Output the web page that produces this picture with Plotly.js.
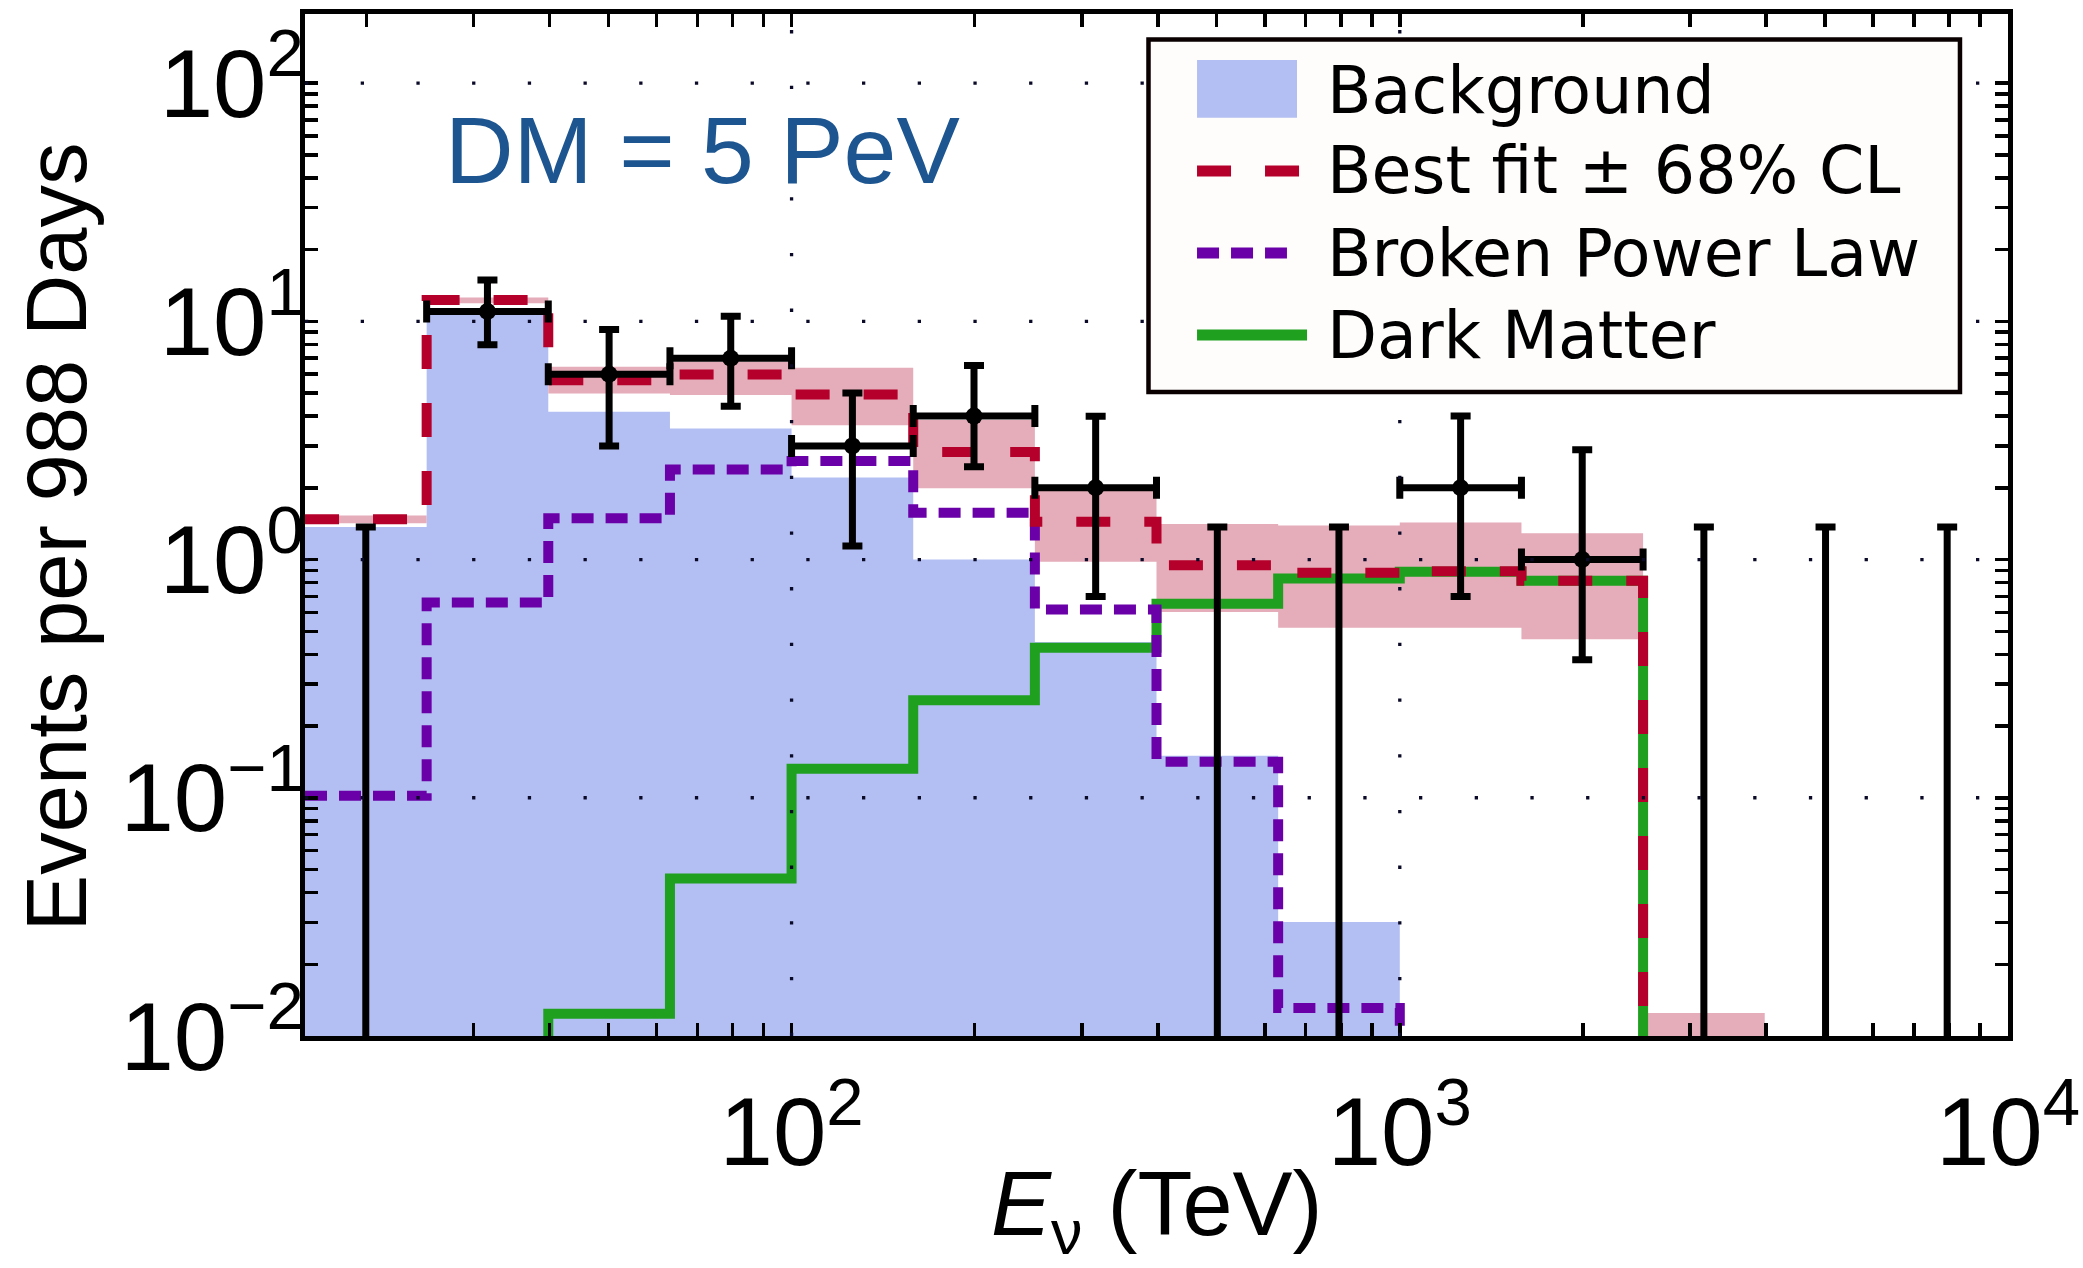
<!DOCTYPE html>
<html>
<head>
<meta charset="utf-8">
<script src="https://cdn.plot.ly/plotly-3.0.1.min.js"></script>
<style>
  html, body { margin: 0; padding: 0; background: #ffffff; }
  #chart { width: 2083px; height: 1268px; }
</style>
</head>
<body>
<div id="chart"></div>
<script>
// ---------------- data ----------------
// energy bin edges in TeV (0.2-decade bins)
const binEdges = [15.85, 25.12, 39.81, 63.10, 100.0, 158.5, 251.2, 398.1, 631.0, 1000, 1585, 2512, 3981, 6310, 10000];
// bin centres in TeV
const binCenters = [19.95, 31.62, 50.12, 79.43, 125.9, 199.5, 316.2, 501.2, 794.3, 1259, 1995, 3162, 5012, 7943];

// expected events per bin (values below 0.01 lie under the axis floor)
const background     = [1.37, 11.3, 4.17, 3.55, 2.21, 1.00, 0.451, 0.150, 0.0301];
const brokenPowerLaw = [0.102, 0.660, 1.49, 2.39, 2.59, 1.57, 0.617, 0.1415, 0.0131, 0.004];
const darkMatter     = [0.002, 0.006, 0.0124, 0.0458, 0.1325, 0.2566, 0.426, 0.653, 0.832, 0.888, 0.814, 0.0005];
const bestFit        = [1.475, 12.3, 5.66, 5.98, 4.93, 2.83, 1.44, 0.947, 0.88, 0.893, 0.814, 0.005];
const bandLow        = [1.42, 11.9, 4.98, 4.90, 3.66, 1.99, 0.978, 0.603, 0.517, 0.517, 0.463, 0.004];
const bandHigh       = [1.53, 12.6, 6.44, 6.76, 6.38, 3.85, 1.94, 1.41, 1.39, 1.43, 1.29, 0.0125];

// observed events (bin index, count, 68% interval)
const obsBin   = [1, 2, 3, 4, 5, 6, 9, 10];
const obsCount = [11, 6, 7, 3, 4, 2, 2, 1];
const obsLow   = [7.98, 3.0, 4.4, 1.14, 2.45, 0.70, 0.70, 0.38];
const obsHigh  = [14.9, 9.23, 10.5, 5.0, 6.53, 3.99, 4.0, 2.89];

// empty bins: upper limits
const ulBin   = [0, 7, 8, 11, 12, 13];
const ulValue = [1.37, 1.37, 1.37, 1.37, 1.37, 1.37];

// axis ticks and titles
const xTickVals = [100, 1000, 10000];
const xTickText = ['10<sup>2</sup>', '10<sup>3</sup>', '10<sup>4</sup>'];
const yTickVals = [0.01, 0.1, 1, 10, 100];
const yTickText = ['10<sup>\u22122</sup>', '10<sup>\u22121</sup>', '10<sup>0</sup>', '10<sup>1</sup>', '10<sup>2</sup>'];
const gridX = [100, 1000];
const gridY = [0.1, 1, 10, 100];
const xTitle = '<i>E</i><sub>\u03bd</sub> (TeV)';
const yTitle = 'Events per 988 Days';

const legendLabels = ['Background', 'Best fit \u00b1 68% CL', 'Broken Power Law', 'Dark Matter'];
const panelLabel = 'DM = 5 PeV';

// ---------------- colours ----------------
const C_BG = '#b3bff2';
const C_BAND = '#e5acb9';
const C_FIT = '#b4002a';
const C_BPL = '#6a00a8';
const C_DM = '#1fa01f';

// ---------------- helpers ----------------
function step(vals) {
  const n = vals.length;
  return { x: binEdges.slice(0, n + 1), y: vals.concat([vals[n - 1]]) };
}

const sBg = step(background);
const sLo = step(bandLow);
const sHi = step(bandHigh);
const sDM = step(darkMatter);
const sBPL = step(brokenPowerLaw);
const sFit = step(bestFit);

const obsX = obsBin.map(b => binCenters[b]);
const obsErrPlus = obsCount.map((v, i) => obsHigh[i] - v);
const obsErrMinus = obsCount.map((v, i) => v - obsLow[i]);
const obsXPlus = obsBin.map(b => binEdges[b + 1] - binCenters[b]);
const obsXMinus = obsBin.map(b => binCenters[b] - binEdges[b]);

const ulX = ulBin.map(b => binCenters[b]);

const traces = [
  { type: 'scatter', mode: 'lines', name: 'Background', x: sBg.x, y: sBg.y, line: { shape: 'hv', width: 0, color: C_BG },
    fill: 'tozeroy', fillcolor: C_BG, hoverinfo: 'skip' },
  { type: 'scatter', mode: 'lines', name: '68% CL low', x: sLo.x, y: sLo.y, line: { shape: 'hv', width: 0, color: C_BAND }, hoverinfo: 'skip' },
  { type: 'scatter', mode: 'lines', name: '68% CL high', x: sHi.x, y: sHi.y, line: { shape: 'hv', width: 0, color: C_BAND },
    fill: 'tonexty', fillcolor: C_BAND, hoverinfo: 'skip' },
  { type: 'scatter', mode: 'lines', name: 'Dark Matter', x: sDM.x, y: sDM.y, line: { shape: 'hv', width: 10, color: C_DM } },
  { type: 'scatter', mode: 'lines', name: 'Broken Power Law', x: sBPL.x, y: sBPL.y, line: { shape: 'hv', width: 10, color: C_BPL, dash: '22px,12px' } },
  { type: 'scatter', mode: 'lines', name: 'Best fit', x: sFit.x, y: sFit.y, line: { shape: 'hv', width: 10, color: C_FIT, dash: '34px,34px' } },
  { type: 'scatter', mode: 'markers', name: 'Data', x: obsX, y: obsCount,
    marker: { size: 17, color: 'black' },
    error_y: { type: 'data', symmetric: false, array: obsErrPlus, arrayminus: obsErrMinus, color: 'black', thickness: 7, width: 10 },
    error_x: { type: 'data', symmetric: false, array: obsXPlus, arrayminus: obsXMinus, color: 'black', thickness: 7, width: 11 } },
  { type: 'scatter', mode: 'markers', name: 'Upper limits', x: ulX, y: ulValue,
    marker: { size: 1, color: 'black' },
    error_y: { type: 'data', symmetric: false, array: ulValue.map(() => 0), arrayminus: ulValue, color: 'black', thickness: 7, width: 10 } }
];

// ---------------- shapes: dotted decade grid (above fills) + legend ----------------
const dotLine = { color: '#0a0a28', width: 3.3, dash: '3.3px,52.4px' };
const shapes = [];
gridX.forEach(v => shapes.push({ type: 'line', layer: 'above', xref: 'x', yref: 'paper', x0: v, x1: v, y0: 0, y1: 1, line: dotLine }));
gridY.forEach(v => shapes.push({ type: 'line', layer: 'above', xref: 'paper', yref: 'y', x0: 0, x1: 1, y0: v, y1: v, line: dotLine }));

// legend box
const LG = { x0: 0.4953, x1: 0.9718, y0: 0.6301, y1: 0.9750, symX0: 0.5238, textX: 0.5988,
             rows: [0.9256, 0.8464, 0.7661, 0.6859] };
shapes.push({ type: 'rect', layer: 'above', xref: 'paper', yref: 'paper', x0: LG.x0, x1: LG.x1, y0: LG.y0, y1: LG.y1,
              line: { color: '#0a0000', width: 4.5 }, fillcolor: 'rgb(255,252,252)' });
shapes.push({ type: 'rect', layer: 'above', xref: 'paper', yref: 'paper', x0: LG.symX0, x1: 0.5825, y0: 0.8986, y1: 0.9550,
              line: { width: 0 }, fillcolor: C_BG });
shapes.push({ type: 'line', layer: 'above', xref: 'paper', yref: 'paper', x0: LG.symX0, x1: 0.5837, y0: LG.rows[1], y1: LG.rows[1],
              line: { color: C_FIT, width: 11, dash: '34px,34px' } });
shapes.push({ type: 'line', layer: 'above', xref: 'paper', yref: 'paper', x0: LG.symX0, x1: 0.5766, y0: LG.rows[2], y1: LG.rows[2],
              line: { color: C_BPL, width: 11, dash: '22px,12px' } });
shapes.push({ type: 'line', layer: 'above', xref: 'paper', yref: 'paper', x0: LG.symX0, x1: 0.5884, y0: LG.rows[3], y1: LG.rows[3],
              line: { color: C_DM, width: 11 } });

const narrow = 'Liberation Sans Narrow, Arial Narrow, Liberation Sans, Arial, sans-serif';
const regular = 'Liberation Sans, Arial, sans-serif';

const annotations = legendLabels.map((t, i) => ({
  xref: 'paper', yref: 'paper', x: LG.textX, y: LG.rows[i], xanchor: 'left', yanchor: 'middle',
  text: t, showarrow: false, font: { family: 'DejaVu Sans, sans-serif', size: 65, color: 'black' }
}));
annotations.push({
  xref: 'paper', yref: 'paper', x: 0.0810, y: 0.8669, xanchor: 'left', yanchor: 'middle',
  text: panelLabel, showarrow: false, font: { family: regular, size: 95, color: '#1d5591' }
});
// axis titles
annotations.push({
  xref: 'paper', yref: 'paper', x: 0.5, y: -0.171, xanchor: 'center', yanchor: 'middle',
  text: xTitle, showarrow: false, font: { family: narrow, size: 90, color: 'black' }
});
annotations.push({
  xref: 'paper', yref: 'paper', x: -0.1462, y: 0.4878, xanchor: 'center', yanchor: 'middle', textangle: -90,
  text: yTitle, showarrow: false, font: { family: regular, size: 85, color: 'black' }
});

const axisCommon = {
  type: 'log', showgrid: false, zeroline: false,
  showline: true, linecolor: 'black', linewidth: 5, mirror: 'allticks',
  ticks: 'inside', ticklen: 13, tickwidth: 3.5, tickcolor: 'black',
  tickmode: 'array', layer: 'above traces',
  minor: { ticks: 'inside', ticklen: 13, tickwidth: 3.5, tickcolor: 'black', dtick: 'D1', showgrid: false },
  tickfont: { family: narrow, size: 96, color: 'black' }
};

const layout = {
  width: 2083, height: 1268,
  margin: { l: 305, r: 75, t: 14, b: 232, pad: 0 },
  paper_bgcolor: 'white', plot_bgcolor: 'white',
  showlegend: false,
  xaxis: Object.assign({}, axisCommon, {
    range: [1.2, 4], tickvals: xTickVals, ticktext: xTickText, ticklabelstandoff: 9
  }),
  yaxis: Object.assign({}, axisCommon, {
    range: [-2, 2.29], tickvals: yTickVals, ticktext: yTickText, ticklabelstandoff: -23
  }),
  shapes: shapes,
  annotations: annotations
};

Plotly.newPlot('chart', traces, layout, { displayModeBar: false, staticPlot: true });
</script>
</body>
</html>
